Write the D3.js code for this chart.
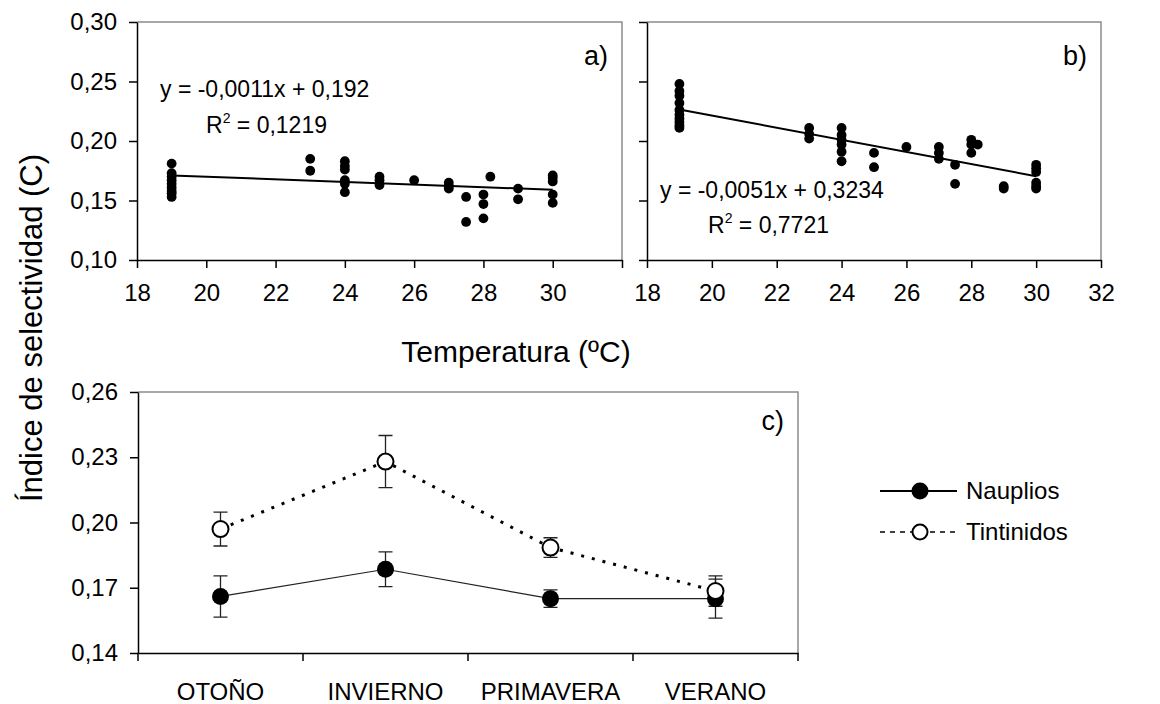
<!DOCTYPE html>
<html>
<head>
<meta charset="utf-8">
<script src="https://cdn.jsdelivr.net/npm/d3@7"></script>
<style>
  body { margin: 0; background: #fff; }
  svg { display: block; font-family: "Liberation Sans", Arial, sans-serif; }
</style>
</head>
<body>
<svg id="chart" width="1160" height="704"></svg>
<script>
// Panel a) – selectivity vs temperature (Nauplios)
const tempA = [19,19,19,19,19,19,19,19,19, 23,23, 24,24,24,24,24,24, 25,25,25, 26, 27,27,27, 27.5,27.5, 28,28,28, 28.2, 29,29, 30,30,30,30,30];
const selA  = [0.181,0.173,0.170,0.167,0.164,0.161,0.158,0.156,0.153, 0.185,0.175, 0.183,0.179,0.176,0.167,0.164,0.157, 0.170,0.167,0.163, 0.167, 0.165,0.162,0.160, 0.153,0.132, 0.155,0.147,0.135, 0.170, 0.160,0.151, 0.171,0.169,0.166,0.155,0.148];
const fitA = { slope: -0.0011, intercept: 0.192 };

// Panel b) – selectivity vs temperature (Tintinidos)
const tempB = [19,19,19,19,19,19,19,19,19,19, 23,23,23, 24,24,24,24,24,24, 25,25, 26, 27,27,27, 27.5,27.5, 28,28,28, 28.2, 29,29, 30,30,30,30,30,30];
const selB  = [0.248,0.242,0.238,0.232,0.226,0.222,0.219,0.216,0.213,0.211, 0.211,0.206,0.202, 0.211,0.205,0.201,0.197,0.191,0.183, 0.190,0.178, 0.195, 0.195,0.190,0.185, 0.180,0.164, 0.201,0.197,0.190, 0.197, 0.162,0.160, 0.180,0.177,0.174,0.165,0.162,0.160];
const fitB = { slope: -0.0051, intercept: 0.3234 };

const tempTicks = [18,20,22,24,26,28,30,32];
const selTicks = [0.10,0.15,0.20,0.25,0.30];

// Panel c) – seasonal means with error bars
const seasons = ["OTOÑO","INVIERNO","PRIMAVERA","VERANO"];
const nauplios = [0.166, 0.1785, 0.165, 0.165];
const nauplErr = [0.0095, 0.008, 0.004, 0.009];
const tintinidos = [0.197, 0.228, 0.1885, 0.1685];
const tintErr = [0.0078, 0.012, 0.0045, 0.007];
const seasonTicks = [0.14,0.17,0.20,0.23,0.26];

const svg = d3.select("#chart");
const fmt = d => d.toFixed(2).replace(".", ",");
const FONT = 24;

function styleAxis(g, color) {
  g.select(".domain").attr("stroke", color || "#000").attr("stroke-width", 1.5);
  g.selectAll(".tick line").attr("stroke", "#000").attr("stroke-width", 1.5);
  g.selectAll(".tick text").attr("fill", "#000").attr("font-size", FONT)
    .attr("font-family", "Liberation Sans, Arial, sans-serif");
}

function scatterPanel(xs, ys, fit, x0, x1, label, eq, eqPos, showLast) {
  const x = d3.scaleLinear().domain([18, 32]).range([x0, x1]);
  const y = d3.scaleLinear().domain([0.10, 0.30]).range([260, 22]);
  const g = svg.append("g");

  // plot-area frame (top and right)
  g.append("path")
    .attr("d", `M${x0},${y(0.30)}H${x1}V${y(0.10)}`)
    .attr("fill", "none").attr("stroke", "#8c8c8c").attr("stroke-width", 1.5);

  const xa = g.append("g").attr("transform", `translate(0,${y(0.10)})`)
    .call(d3.axisBottom(x).tickValues(tempTicks).tickSize(8).tickPadding(16)
      .tickSizeOuter(0).tickFormat(d => (!showLast && d === 32) ? "" : d));
  styleAxis(xa);
  xa.selectAll(".tick text").attr("dy", "0.71em");

  const ya = g.append("g").attr("transform", `translate(${x0},0)`)
    .call(d3.axisLeft(y).tickValues(selTicks).tickSize(8).tickPadding(12)
      .tickSizeOuter(0).tickFormat(label === "a)" ? fmt : () => ""));
  styleAxis(ya);

  // regression line over the observed range
  const tx = d3.extent(xs);
  g.append("line")
    .attr("x1", x(tx[0])).attr("y1", y(fit.slope * tx[0] + fit.intercept))
    .attr("x2", x(tx[1])).attr("y2", y(fit.slope * tx[1] + fit.intercept))
    .attr("stroke", "#000").attr("stroke-width", 2);

  g.selectAll("circle.pt").data(xs.map((v, i) => [v, ys[i]])).join("circle")
    .attr("class", "pt")
    .attr("cx", d => x(d[0])).attr("cy", d => y(d[1])).attr("r", 4.9)
    .attr("fill", "#000");

  g.append("text").attr("x", x1 - 14).attr("y", 65).attr("text-anchor", "end")
    .attr("font-size", 27).text(label);

  g.append("text").attr("x", eqPos[0]).attr("y", eqPos[1])
    .attr("font-size", 23).text(eq[0]);
  const t2 = g.append("text").attr("x", eqPos[2]).attr("y", eqPos[3])
    .attr("font-size", 23);
  t2.append("tspan").text("R");
  t2.append("tspan").attr("font-size", 14).attr("dy", -10).text("2");
  t2.append("tspan").attr("dy", 10).text(eq[1]);
}

scatterPanel(tempA, selA, fitA, 137, 622, "a)",
  ["y = -0,0011x + 0,192", " = 0,1219"], [160, 97, 206, 133], false);
scatterPanel(tempB, selB, fitB, 647, 1101, "b)",
  ["y = -0,0051x + 0,3234", " = 0,7721"], [660, 198, 708, 233], true);

// Shared axis titles
svg.append("text").attr("x", 516).attr("y", 362).attr("text-anchor", "middle")
  .attr("font-size", 30).text("Temperatura (ºC)");
svg.append("text").attr("transform", "translate(42,328) rotate(-90)")
  .attr("text-anchor", "middle").attr("font-size", 31).text("Índice de selectividad (C)");

// Panel c)
{
  const x0 = 138, x1 = 798;
  const x = d3.scaleBand().domain(seasons).range([x0, x1]);
  const y = d3.scaleLinear().domain([0.14, 0.26]).range([653, 392]);
  const cx = s => x(s) + x.bandwidth() / 2;
  const g = svg.append("g");

  g.append("path")
    .attr("d", `M${x0},${y(0.26)}H${x1}V${y(0.14)}`)
    .attr("fill", "none").attr("stroke", "#8c8c8c").attr("stroke-width", 1.5);

  const xa = g.append("g").attr("transform", `translate(0,${y(0.14)})`)
    .call(d3.axisBottom(x).tickSize(0).tickPadding(30).tickSizeOuter(0));
  styleAxis(xa);
  xa.selectAll(".tick text").attr("dy", "0.71em");
  // category separators
  xa.selectAll("line.sep").data([x0, ...seasons.map(s => x(s) + x.bandwidth())]).join("line")
    .attr("class", "sep").attr("x1", d => d).attr("x2", d => d)
    .attr("y1", 0).attr("y2", 8).attr("stroke", "#000").attr("stroke-width", 1.5);

  const ya = g.append("g").attr("transform", `translate(${x0},0)`)
    .call(d3.axisLeft(y).tickValues(seasonTicks).tickSize(8).tickPadding(12)
      .tickSizeOuter(0).tickFormat(fmt));
  styleAxis(ya);

  const lineGen = d3.line().x(d => cx(d[0])).y(d => y(d[1]));

  // Nauplios: solid line
  g.append("path").datum(seasons.map((s, i) => [s, nauplios[i]]))
    .attr("d", lineGen).attr("fill", "none").attr("stroke", "#222").attr("stroke-width", 1.2);
  // Tintinidos: dotted line
  g.append("path").datum(seasons.map((s, i) => [s, tintinidos[i]]))
    .attr("d", lineGen).attr("fill", "none").attr("stroke", "#000")
    .attr("stroke-width", 3).attr("stroke-dasharray", "3,8");

  function errBars(vals, errs) {
    seasons.forEach((s, i) => {
      const px = cx(s), top = y(vals[i] + errs[i]), bot = y(vals[i] - errs[i]);
      g.append("path")
        .attr("d", `M${px},${top}V${bot}M${px - 7},${top}H${px + 7}M${px - 7},${bot}H${px + 7}`)
        .attr("fill", "none").attr("stroke", "#222").attr("stroke-width", 1.3);
    });
  }
  errBars(nauplios, nauplErr);
  errBars(tintinidos, tintErr);

  g.selectAll("circle.naup").data(seasons).join("circle").attr("class", "naup")
    .attr("cx", cx).attr("cy", (s, i) => y(nauplios[i])).attr("r", 8.5).attr("fill", "#000");
  g.selectAll("circle.tint").data(seasons).join("circle").attr("class", "tint")
    .attr("cx", cx).attr("cy", (s, i) => y(tintinidos[i])).attr("r", 8)
    .attr("fill", "#fff").attr("stroke", "#000").attr("stroke-width", 2);

  g.append("text").attr("x", 784).attr("y", 430).attr("text-anchor", "end")
    .attr("font-size", 27).text("c)");

  // Legend
  const lg = svg.append("g");
  lg.append("line").attr("x1", 880).attr("x2", 957).attr("y1", 491).attr("y2", 491)
    .attr("stroke", "#000").attr("stroke-width", 2);
  lg.append("circle").attr("cx", 920).attr("cy", 491).attr("r", 8.5).attr("fill", "#000");
  lg.append("text").attr("x", 966).attr("y", 499).attr("font-size", FONT).text("Nauplios");

  lg.append("line").attr("x1", 880).attr("x2", 957).attr("y1", 532).attr("y2", 532)
    .attr("stroke", "#000").attr("stroke-width", 1.5).attr("stroke-dasharray", "5,5");
  lg.append("circle").attr("cx", 920).attr("cy", 532).attr("r", 7.5)
    .attr("fill", "#fff").attr("stroke", "#000").attr("stroke-width", 2);
  lg.append("text").attr("x", 966).attr("y", 540).attr("font-size", FONT).text("Tintinidos");
}
</script>
</body>
</html>
